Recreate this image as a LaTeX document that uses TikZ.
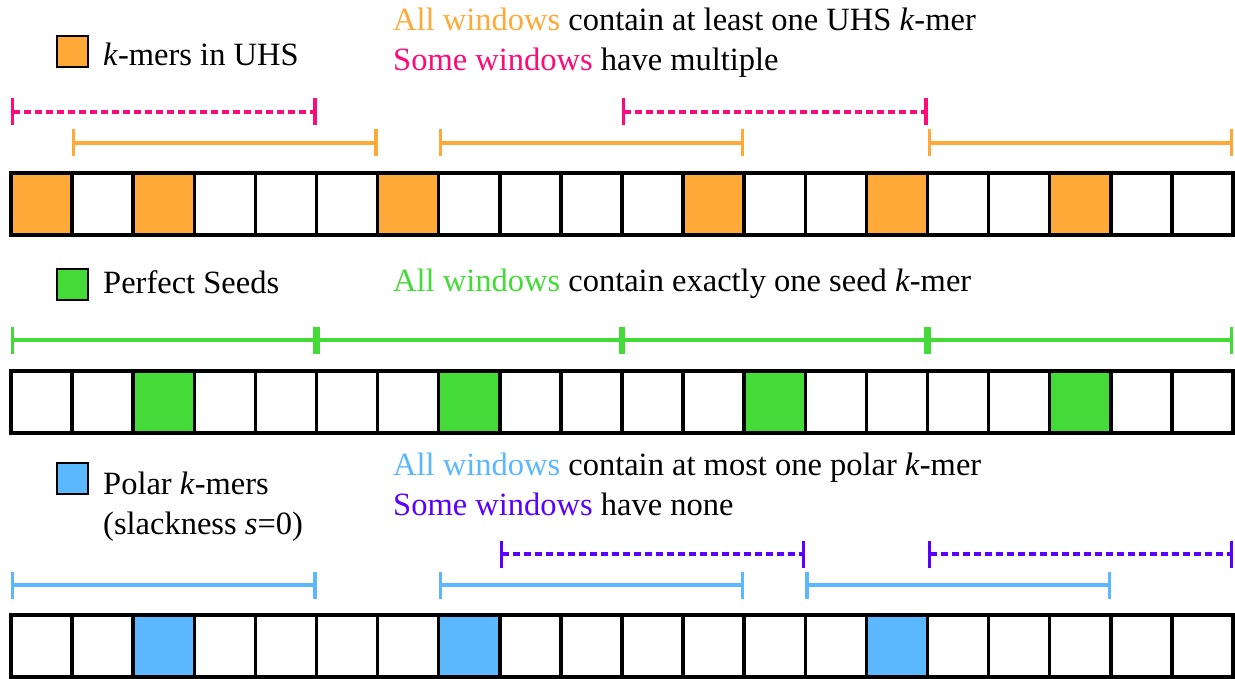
\documentclass[tikz,border=0pt]{standalone}
\usepackage{fontspec}
\setmainfont{Liberation Serif}
\usetikzlibrary{arrows.meta}
\definecolor{uhs}{HTML}{FFAA38}
\definecolor{multi}{HTML}{FF0A7A}
\definecolor{seed}{HTML}{44DB38}
\definecolor{polar}{HTML}{5BB8FF}
\definecolor{empty}{HTML}{5A00FF}
\tikzset{
  cell/.style={draw=black, line width=3.5pt, minimum width=61.1pt, minimum height=62pt,
    inner sep=0pt, outer sep=0pt, fill=white},
  legendbox/.style={draw=black, line width=2.5pt, minimum size=31pt, inner sep=0pt},
  label/.style={anchor=base west, inner sep=0pt, font=\fontsize{32.5}{40}\selectfont},
  win/.style={line width=3.3pt, {Bar[width=27pt]}-{Bar[width=27pt]}},
  gap/.style={win, dash pattern=on 7pt off 4pt},
}
\begin{document}
\begin{tikzpicture}[x=1pt, y=-1pt]
\useasboundingbox (0,0) rectangle (1235,679);

% ---------- row 1: universal hitting set ----------
\node[legendbox, fill=uhs] (lg1) at (72.5,51.5) {};
\node[label] (t1) at (103,66) {\textit{k}-mers in UHS};
\node[label] (d1a) at (393,31) {\textcolor{uhs}{All windows} contain at least one UHS \textit{k}-mer};
\node[label] (d1b) at (393,71) {\textcolor{multi}{Some windows} have multiple};
\foreach \i in {1,3,4,5,7,8,9,10,12,13,15,16,18,19}
  \node[cell] (a\i) at ({41.55+61.1*\i},204) {};
\foreach \i in {0,2,6,11,14,17}
  \node[cell, fill=uhs] (a\i) at ({41.55+61.1*\i},204) {};
\draw[gap, draw=multi] ([yshift=61pt]a0.north west) -- ([yshift=61pt]a4.north east);
\draw[gap, draw=multi] ([yshift=61pt]a10.north west) -- ([yshift=61pt]a14.north east);
\draw[win, draw=uhs] ([yshift=30pt]a1.north west) -- ([yshift=30pt]a5.north east);
\draw[win, draw=uhs] ([yshift=30pt]a7.north west) -- ([yshift=30pt]a11.north east);
\draw[win, draw=uhs] ([yshift=30pt]a15.north west) -- ([yshift=30pt]a19.north east);

% ---------- row 2: perfect seeds ----------
\node[legendbox, fill=seed] (lg2) at (72.5,284.5) {};
\node[label] (t2) at (103,294) {Perfect Seeds};
\node[label] (d2) at (393,292) {\textcolor{seed}{All windows} contain exactly one seed \textit{k}-mer};
\foreach \i in {0,1,3,4,5,6,8,9,10,11,13,14,15,16,18,19}
  \node[cell] (b\i) at ({41.55+61.1*\i},402) {};
\foreach \i in {2,7,12,17}
  \node[cell, fill=seed] (b\i) at ({41.55+61.1*\i},402) {};
\foreach \i/\j in {0/4,5/9,10/14,15/19}
  \draw[win, draw=seed] ([yshift=31pt]b\i.north west) -- ([yshift=31pt]b\j.north east);

% ---------- row 3: polar k-mers ----------
\node[legendbox, fill=polar] (lg3) at (72.5,478.5) {};
\node[label] (t3a) at (103,494) {Polar \textit{k}-mers};
\node[label] (t3b) at (103,534) {(slackness \textit{s}=0)};
\node[label] (d3a) at (393,475) {\textcolor{polar}{All windows} contain at most one polar \textit{k}-mer};
\node[label] (d3b) at (393,515) {\textcolor{empty}{Some windows} have none};
\foreach \i in {0,1,3,4,5,6,8,9,10,11,12,13,15,16,17,18,19}
  \node[cell] (c\i) at ({41.55+61.1*\i},646) {};
\foreach \i in {2,7,14}
  \node[cell, fill=polar] (c\i) at ({41.55+61.1*\i},646) {};
\draw[gap, draw=empty] ([yshift=61pt]c8.north west) -- ([yshift=61pt]c12.north east);
\draw[gap, draw=empty] ([yshift=61pt]c15.north west) -- ([yshift=61pt]c19.north east);
\draw[win, draw=polar] ([yshift=30pt]c0.north west) -- ([yshift=30pt]c4.north east);
\draw[win, draw=polar] ([yshift=30pt]c7.north west) -- ([yshift=30pt]c11.north east);
\draw[win, draw=polar] ([yshift=30pt]c13.north west) -- ([yshift=30pt]c17.north east);
\end{tikzpicture}
\end{document}
